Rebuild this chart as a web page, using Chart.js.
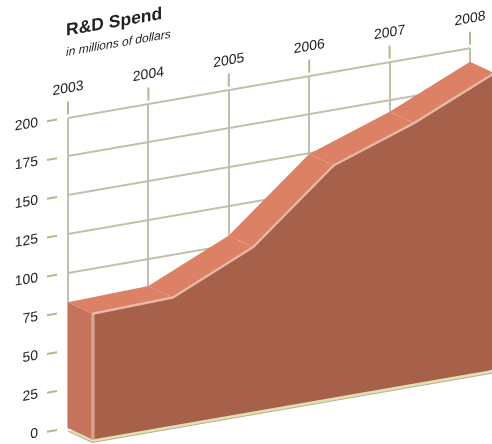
<!DOCTYPE html>
<html>
<head>
<meta charset="utf-8">
<style>html,body{margin:0;padding:0;background:#fff}canvas{display:block}</style>
<script src="https://cdn.jsdelivr.net/npm/chart.js@4"></script>
</head>
<body>
<canvas id="c" width="492" height="444"></canvas>
<script>
const categories = ['2003','2004','2005','2006','2007','2008'];
const spend = [81, 82.4, 106, 149.5, 167.8, 191];
const yTickStep = 25;
const yMax = 200;

const SHEAR = 0.1736, LEFT = 68;
const DEPTH_X = 0.3035, DEPTH_Y = 10.1, FLOOR_DROP = 2;
const C = {top:'#dc8066', side:'#c5745c', face:'#a7614a', edge:'#e7b9a6', cream:'#e2dfb4', olive:'#b3b28c', grid:'#c0c0aa', tick:'#bcb48e', text:'#222222'};

function poly(ctx, pts, fill){
  ctx.beginPath();
  pts.forEach((p,i)=> i ? ctx.lineTo(p.x,p.y) : ctx.moveTo(p.x,p.y));
  ctx.closePath();
  ctx.fillStyle = fill; ctx.fill();
}
function noPad(s){ s.paddingLeft=s.paddingRight=s.paddingTop=s.paddingBottom=0; }

const shear = {
  id:'shear',
  afterLayout(chart){ chart.boxes.forEach(b=>{ if(b.options && typeof b.options.text==='string'){ b.left-=2; b.right-=2; } }); },
  beforeDraw(chart){ const c=chart.ctx; c.save(); c.transform(1,-SHEAR,0,1,0,SHEAR*LEFT); },
  afterDraw(chart){ chart.ctx.restore(); }
};

const solid = {
  id:'solid',
  beforeDatasetsDraw(chart){
    const ctx = chart.ctx, s = chart.scales;
    const back = chart.getDatasetMeta(0).data, front = chart.getDatasetMeta(1).data;
    const last = back.length-1;
    const y0b = s.y.getPixelForValue(0), y0f = s.yFront.getPixelForValue(0);
    const yDb = s.y.getPixelForValue(-FLOOR_DROP), yDf = s.yFront.getPixelForValue(-FLOOR_DROP);
    // tick marks
    ctx.save();
    ctx.strokeStyle = C.tick; ctx.lineWidth = 2;
    s.x.ticks.forEach((t,i)=>{ const x=s.x.getPixelForTick(i);
      ctx.beginPath(); ctx.moveTo(x,chart.chartArea.top-16); ctx.lineTo(x,chart.chartArea.top-3); ctx.stroke(); });
    s.y.ticks.forEach((t,i)=>{ const y=s.y.getPixelForTick(i);
      ctx.beginPath(); ctx.moveTo(LEFT-21,y); ctx.lineTo(LEFT-11,y); ctx.stroke(); });
    // floor
    const fx0=front[0].x, fxN=front[last].x, bx0=back[0].x, bxN=back[last].x;
    poly(ctx,[{x:bx0,y:yDb},{x:bxN,y:yDb},{x:fxN,y:yDf},{x:fx0,y:yDf}],C.cream);
    ctx.strokeStyle=C.olive; ctx.lineWidth=1;
    ctx.beginPath(); ctx.moveTo(bx0,yDb); ctx.lineTo(fx0,yDf); ctx.lineTo(fxN,yDf); ctx.stroke();
    // left side
    poly(ctx,[{x:bx0,y:y0b},{x:back[0].x,y:back[0].y},{x:front[0].x,y:front[0].y},{x:fx0,y:y0f}],C.side);
    // top surface
    poly(ctx,[...back.map(p=>({x:p.x,y:p.y})),...front.map(p=>({x:p.x,y:p.y})).reverse()],C.top);
    // front face
    poly(ctx,[...front.map(p=>({x:p.x,y:p.y})),{x:fxN,y:y0f},{x:fx0,y:y0f}],C.face);
    // vertical edge highlight
    ctx.strokeStyle='#d9a08d'; ctx.lineWidth=3.5;
    ctx.beginPath(); ctx.moveTo(fx0+0.5,front[0].y); ctx.lineTo(fx0+0.5,y0f); ctx.stroke();
    // separators on the top surface
    ctx.strokeStyle='#eeb9a6'; ctx.lineWidth=0.8; ctx.setLineDash([1.5,1.5]);
    for(let i=1;i<last;i++){ ctx.beginPath(); ctx.moveTo(back[i].x,back[i].y); ctx.lineTo(front[i].x,front[i].y); ctx.stroke(); }
    ctx.restore();
  }
};

new Chart(document.getElementById('c'),{
  type:'line',
  data:{
    labels:categories,
    datasets:[
      {label:'R&D Spend (rear)',data:spend,xAxisID:'x',yAxisID:'y',borderColor:'rgba(0,0,0,0)',borderWidth:0,pointRadius:0,tension:0,clip:false},
      {label:'R&D Spend',data:spend,xAxisID:'xFront',yAxisID:'yFront',borderColor:C.edge,borderWidth:2.5,pointRadius:0,tension:0,clip:false}
    ]
  },
  options:{
    responsive:false,animation:false,
    layout:{autoPadding:false,padding:{left:0,right:22,bottom:16,top:0}},
    plugins:{
      legend:{display:false},tooltip:{enabled:false},
      title:{display:true,text:'R&D Spend',align:'start',fullSize:false,color:C.text,font:{family:'"Liberation Sans"',size:17.5,weight:'bold'},padding:{top:20,bottom:4}},
      subtitle:{display:true,text:'in millions of dollars',align:'start',fullSize:false,color:C.text,font:{family:'"Liberation Sans"',size:12,style:'italic'},padding:{top:0,bottom:0}}
    },
    scales:{
      x:{type:'category',position:'top',offset:false,
        grid:{color:C.grid,lineWidth:2,drawTicks:false},border:{display:false},
        ticks:{color:C.text,font:{family:'"Liberation Sans"',size:14},maxRotation:0,autoSkip:false,padding:20.5},
        afterFit(s){s.height=117.5-(20+21+4+14.4);noPad(s);}},
      y:{type:'linear',min:0,max:yMax,
        grid:{color:C.grid,lineWidth:2,drawTicks:false},border:{display:false},
        ticks:{stepSize:yTickStep,color:C.text,font:{family:'"Liberation Sans"',size:14},padding:30},
        afterFit(s){s.width=LEFT;noPad(s);}},
      xFront:{type:'linear',display:false,min:2003-DEPTH_X,max:2008-DEPTH_X},
      yFront:{type:'linear',display:false,min:DEPTH_Y,max:yMax+DEPTH_Y}
    }
  },
  plugins:[shear,solid]
});
</script>
</body>
</html>
